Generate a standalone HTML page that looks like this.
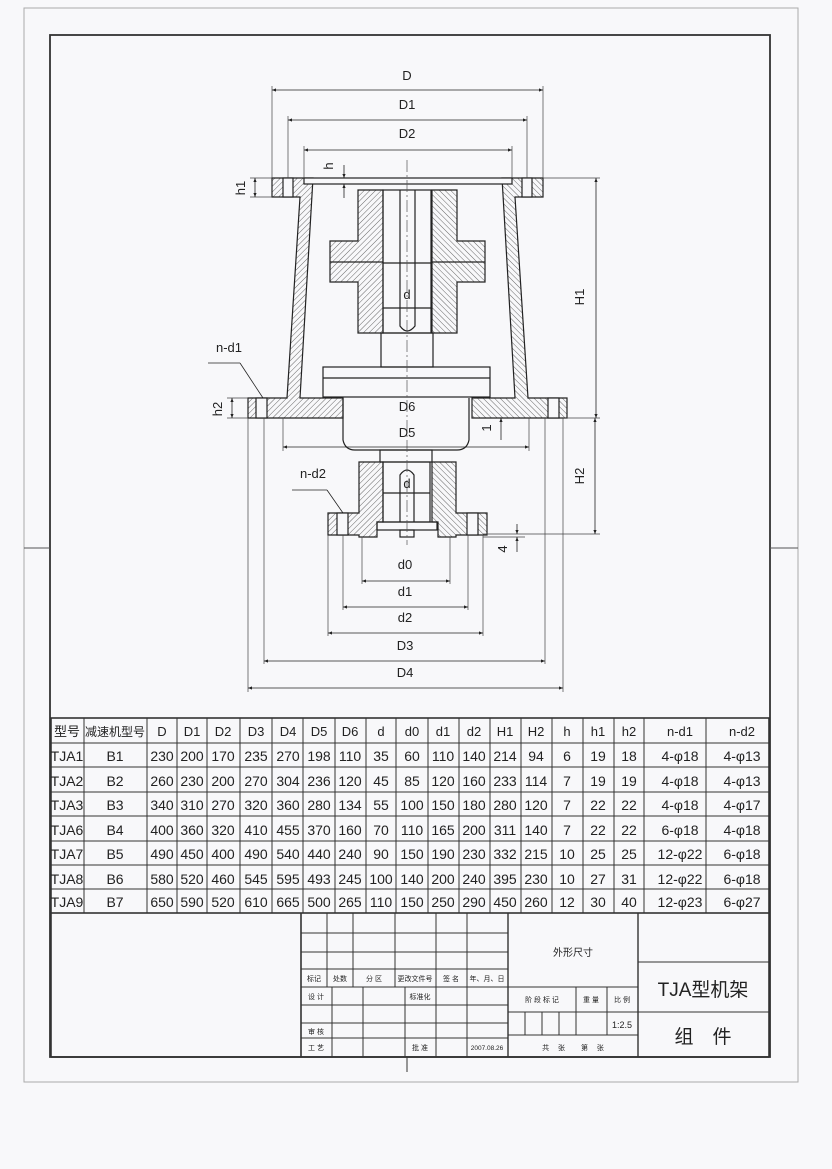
<!DOCTYPE html>
<html><head><meta charset="utf-8"><style>
html,body{margin:0;padding:0;background:#f8f8fa;}
svg{display:block}
text{font-family:"Liberation Sans","Noto Sans CJK SC",sans-serif;fill:#222}
</style></head><body>
<svg width="832" height="1169" viewBox="0 0 832 1169" xmlns="http://www.w3.org/2000/svg">
<defs>
<pattern id="h" patternUnits="userSpaceOnUse" width="4" height="4" patternTransform="rotate(45)">
<line x1="0" y1="0" x2="0" y2="4" stroke="#444" stroke-width="0.8"/></pattern>
<marker id="a" viewBox="0 0 10 10" refX="10" refY="5" markerWidth="7" markerHeight="5" orient="auto-start-reverse">
<path d="M0,1 L10,5 L0,9 z" fill="#222"/></marker>
</defs>
<rect width="832" height="1169" fill="#f8f8fa"/>
<!-- outer frame -->
<rect x="24" y="8" width="774" height="1074" fill="none" stroke="#aaa" stroke-width="1"/>
<!-- inner frame -->
<rect x="50" y="35" width="720" height="1022" fill="none" stroke="#333" stroke-width="1.8"/>
<line x1="24" y1="548" x2="50" y2="548" stroke="#555"/>
<line x1="770" y1="548" x2="798" y2="548" stroke="#555"/>

<g stroke="#222" stroke-width="1.2" fill="none">
<!-- housing left half and mirrored -->
<g id="hl">
<path d="M272,178 H313 L300,398 H343 V418 H248 V398 H287 L300,197 H272 Z" fill="url(#h)"/>
<rect x="283" y="178" width="10" height="19" fill="#f8f8fa"/>
<rect x="256" y="398" width="11" height="20" fill="#f8f8fa"/>
<!-- coupling upper -->
<path d="M358,190 H383 V333 H358 V282 H330 V241 H358 Z" fill="url(#h)"/>
<line x1="330" y1="262" x2="383" y2="262"/>
<!-- lower hub -->
<path d="M359,462 H383 V522 H377 V537 H359 V535 H328 V513 H359 Z" fill="url(#h)"/>
<rect x="337" y="513" width="11" height="22" fill="#f8f8fa"/>
</g>
<use href="#hl" transform="translate(815,0) scale(-1,1)"/>
<rect x="304" y="178" width="208" height="6" fill="#f8f8fa"/>
<!-- upper bore/shaft -->
<rect x="383" y="190" width="48" height="143"/>
<path d="M400,190 V326 Q407,336 415,326 V190"/>
<line x1="383" y1="263" x2="431" y2="263"/>
<line x1="383" y1="308" x2="431" y2="308"/>
<rect x="381" y="333" width="52" height="34"/>
<rect x="323" y="367" width="167" height="30"/>
<line x1="323" y1="378" x2="490" y2="378"/>
<path d="M343,398 V440 Q345,450 355,450 H457 Q467,450 469,440 V398"/>
<rect x="380" y="450" width="52" height="12"/>
<!-- lower bore -->
<rect x="383" y="462" width="47" height="60"/>
<path d="M400,522 V475 Q407,465 414,475 V522"/>
<line x1="383" y1="493" x2="430" y2="493"/>
<rect x="377" y="522" width="60" height="8"/>
<rect x="400" y="530" width="14" height="7"/>
</g>
<!-- centerline -->
<line x1="407" y1="160" x2="407" y2="545" stroke="#555" stroke-width="0.7" stroke-dasharray="12,3,2,3"/>

<!-- extension lines -->
<g stroke="#444" stroke-width="0.7">
<line x1="272" y1="86" x2="272" y2="178"/><line x1="543" y1="86" x2="543" y2="178"/>
<line x1="288" y1="116" x2="288" y2="178"/><line x1="527" y1="116" x2="527" y2="178"/>
<line x1="304" y1="146" x2="304" y2="178"/><line x1="512" y1="146" x2="512" y2="178"/>
<line x1="250" y1="178" x2="272" y2="178"/><line x1="250" y1="197" x2="272" y2="197"/>
<line x1="543" y1="178" x2="600" y2="178"/><line x1="564" y1="418" x2="600" y2="418"/>
<line x1="483" y1="534" x2="600" y2="534"/>
<line x1="227" y1="398" x2="248" y2="398"/><line x1="227" y1="418" x2="248" y2="418"/>
<line x1="283" y1="418" x2="283" y2="451"/><line x1="529" y1="418" x2="529" y2="451"/>
<line x1="264" y1="418" x2="264" y2="664"/><line x1="545" y1="418" x2="545" y2="664"/>
<line x1="248" y1="418" x2="248" y2="692"/><line x1="563" y1="418" x2="563" y2="692"/>
<line x1="328" y1="535" x2="328" y2="636"/><line x1="483" y1="535" x2="483" y2="636"/>
<line x1="343" y1="535" x2="343" y2="610"/><line x1="468" y1="535" x2="468" y2="610"/>
<line x1="362" y1="537" x2="362" y2="584"/><line x1="450" y1="537" x2="450" y2="584"/>
<line x1="483" y1="537" x2="525" y2="537"/>
</g>
<!-- dimension lines -->
<g stroke="#222" stroke-width="0.8" marker-start="url(#a)" marker-end="url(#a)">
<line x1="272" y1="90" x2="543" y2="90"/>
<line x1="288" y1="120" x2="527" y2="120"/>
<line x1="304" y1="150" x2="512" y2="150"/>
<line x1="255" y1="178" x2="255" y2="197"/>
<line x1="596" y1="178" x2="596" y2="418"/>
<line x1="595" y1="418" x2="595" y2="534"/>
<line x1="232" y1="398" x2="232" y2="418"/>
<line x1="283" y1="447" x2="529" y2="447"/>
<line x1="362" y1="581" x2="450" y2="581"/>
<line x1="343" y1="607" x2="468" y2="607"/>
<line x1="328" y1="633" x2="483" y2="633"/>
<line x1="264" y1="661" x2="545" y2="661"/>
<line x1="248" y1="688" x2="563" y2="688"/>
</g>
<g stroke="#222" stroke-width="0.8">
<line x1="344" y1="165" x2="344" y2="178" marker-end="url(#a)"/>
<line x1="344" y1="198" x2="344" y2="184" marker-end="url(#a)"/>
<line x1="501" y1="440" x2="501" y2="418" marker-end="url(#a)"/>
<line x1="517" y1="524" x2="517" y2="534" marker-end="url(#a)"/>
<line x1="517" y1="552" x2="517" y2="537" marker-end="url(#a)"/>
<line x1="208" y1="363" x2="240" y2="363"/><line x1="240" y1="363" x2="263" y2="398"/>
<line x1="292" y1="490" x2="327" y2="490"/><line x1="327" y1="490" x2="343" y2="513"/>
</g>
<!-- labels -->
<g font-size="13" text-anchor="middle">
<text x="407" y="80">D</text>
<text x="407" y="109">D1</text>
<text x="407" y="138">D2</text>
<text x="407" y="299">d</text>
<text x="407" y="411">D6</text>
<text x="407" y="437">D5</text>
<text x="407" y="488">d</text>
<text x="405" y="569">d0</text>
<text x="405" y="596">d1</text>
<text x="405" y="622">d2</text>
<text x="405" y="650">D3</text>
<text x="405" y="677">D4</text>
<text x="229" y="352">n-d1</text>
<text x="313" y="478">n-d2</text>
<text transform="translate(245,188) rotate(-90)">h1</text>
<text transform="translate(333,166) rotate(-90)">h</text>
<text transform="translate(584,297) rotate(-90)">H1</text>
<text transform="translate(584,476) rotate(-90)">H2</text>
<text transform="translate(222,409) rotate(-90)">h2</text>
<text transform="translate(491,428) rotate(-90)">1</text>
<text transform="translate(507,549) rotate(-90)">4</text>
</g>

<!-- table -->
<g stroke="#333" stroke-width="1" fill="none">
<rect x="51" y="718" width="718" height="195" stroke-width="1.6"/>
<line x1="51" y1="743" x2="769" y2="743"/><line x1="51" y1="767" x2="769" y2="767"/>
<line x1="51" y1="792" x2="769" y2="792"/><line x1="51" y1="816" x2="769" y2="816"/>
<line x1="51" y1="841" x2="769" y2="841"/><line x1="51" y1="865" x2="769" y2="865"/>
<line x1="51" y1="889" x2="769" y2="889"/>
<path d="M84,718V913M147,718V913M177,718V913M207,718V913M240,718V913M272,718V913M303,718V913M335,718V913M366,718V913M396,718V913M428,718V913M459,718V913M490,718V913M521,718V913M552,718V913M583,718V913M614,718V913M644,718V913M706,718V913"/>
</g>
<g font-size="13" text-anchor="middle" id="tbl">
<text x="67" y="736">型号</text><text x="115" y="736" font-size="12">减速机型号</text>
<text x="162" y="736">D</text><text x="192" y="736">D1</text><text x="223" y="736">D2</text><text x="256" y="736">D3</text><text x="288" y="736">D4</text><text x="319" y="736">D5</text><text x="350" y="736">D6</text><text x="381" y="736">d</text><text x="412" y="736">d0</text><text x="443" y="736">d1</text><text x="474" y="736">d2</text><text x="505" y="736">H1</text><text x="536" y="736">H2</text><text x="567" y="736">h</text><text x="598" y="736">h1</text><text x="629" y="736">h2</text><text x="680" y="736">n-d1</text><text x="742" y="736">n-d2</text>
</g>
<g font-size="14" text-anchor="middle">
<g transform="translate(0,761)"><text x="67">TJA1</text><text x="115">B1</text><text x="162">230</text><text x="192">200</text><text x="223">170</text><text x="256">235</text><text x="288">270</text><text x="319">198</text><text x="350">110</text><text x="381">35</text><text x="412">60</text><text x="443">110</text><text x="474">140</text><text x="505">214</text><text x="536">94</text><text x="567">6</text><text x="598">19</text><text x="629">18</text><text x="680">4-φ18</text><text x="742">4-φ13</text></g>
<g transform="translate(0,786)"><text x="67">TJA2</text><text x="115">B2</text><text x="162">260</text><text x="192">230</text><text x="223">200</text><text x="256">270</text><text x="288">304</text><text x="319">236</text><text x="350">120</text><text x="381">45</text><text x="412">85</text><text x="443">120</text><text x="474">160</text><text x="505">233</text><text x="536">114</text><text x="567">7</text><text x="598">19</text><text x="629">19</text><text x="680">4-φ18</text><text x="742">4-φ13</text></g>
<g transform="translate(0,810)"><text x="67">TJA3</text><text x="115">B3</text><text x="162">340</text><text x="192">310</text><text x="223">270</text><text x="256">320</text><text x="288">360</text><text x="319">280</text><text x="350">134</text><text x="381">55</text><text x="412">100</text><text x="443">150</text><text x="474">180</text><text x="505">280</text><text x="536">120</text><text x="567">7</text><text x="598">22</text><text x="629">22</text><text x="680">4-φ18</text><text x="742">4-φ17</text></g>
<g transform="translate(0,835)"><text x="67">TJA6</text><text x="115">B4</text><text x="162">400</text><text x="192">360</text><text x="223">320</text><text x="256">410</text><text x="288">455</text><text x="319">370</text><text x="350">160</text><text x="381">70</text><text x="412">110</text><text x="443">165</text><text x="474">200</text><text x="505">311</text><text x="536">140</text><text x="567">7</text><text x="598">22</text><text x="629">22</text><text x="680">6-φ18</text><text x="742">4-φ18</text></g>
<g transform="translate(0,859)"><text x="67">TJA7</text><text x="115">B5</text><text x="162">490</text><text x="192">450</text><text x="223">400</text><text x="256">490</text><text x="288">540</text><text x="319">440</text><text x="350">240</text><text x="381">90</text><text x="412">150</text><text x="443">190</text><text x="474">230</text><text x="505">332</text><text x="536">215</text><text x="567">10</text><text x="598">25</text><text x="629">25</text><text x="680">12-φ22</text><text x="742">6-φ18</text></g>
<g transform="translate(0,884)"><text x="67">TJA8</text><text x="115">B6</text><text x="162">580</text><text x="192">520</text><text x="223">460</text><text x="256">545</text><text x="288">595</text><text x="319">493</text><text x="350">245</text><text x="381">100</text><text x="412">140</text><text x="443">200</text><text x="474">240</text><text x="505">395</text><text x="536">230</text><text x="567">10</text><text x="598">27</text><text x="629">31</text><text x="680">12-φ22</text><text x="742">6-φ18</text></g>
<g transform="translate(0,907)"><text x="67">TJA9</text><text x="115">B7</text><text x="162">650</text><text x="192">590</text><text x="223">520</text><text x="256">610</text><text x="288">665</text><text x="319">500</text><text x="350">265</text><text x="381">110</text><text x="412">150</text><text x="443">250</text><text x="474">290</text><text x="505">450</text><text x="536">260</text><text x="567">12</text><text x="598">30</text><text x="629">40</text><text x="680">12-φ23</text><text x="742">6-φ27</text></g>
</g>

<!-- title block -->
<g stroke="#333" stroke-width="1" fill="none">
<line x1="51" y1="913" x2="51" y2="1057" stroke-width="1.6"/>
<line x1="51" y1="1057" x2="769" y2="1057" stroke-width="1.6"/>
<line x1="769" y1="913" x2="769" y2="1057" stroke-width="1.6"/>
<line x1="301" y1="913" x2="301" y2="1057" stroke-width="1.6"/>
<line x1="508" y1="913" x2="508" y2="1057" stroke-width="1.4"/>
<line x1="638" y1="913" x2="638" y2="1057" stroke-width="1.4"/>
<path d="M301,933H508M301,952H508M301,969H508M301,987H508M301,1005H508M301,1023H508M301,1038H508"/>
<path d="M327,913V987M353,913V987M395,913V987M436,913V1057M467,913V1057"/>
<path d="M332,987V1057M363,987V1057M405,987V1057"/>
<path d="M508,987H638M508,1012H638M508,1035H638M576,987V1035M607,987V1035M525,1012V1035M542,1012V1035M559,1012V1035"/>
<path d="M638,962H769M638,1012H769"/>
<line x1="407" y1="1057" x2="407" y2="1072"/>
</g>
<g font-size="7" text-anchor="middle">
<text x="314" y="981">标记</text><text x="340" y="981">处数</text><text x="374" y="981">分 区</text><text x="415" y="981">更改文件号</text><text x="451" y="981">签 名</text><text x="487" y="981">年、月、日</text>
<text x="316" y="999">设 计</text><text x="420" y="999">标准化</text>
<text x="316" y="1034">审 核</text><text x="316" y="1050">工 艺</text><text x="420" y="1050">批 准</text><text x="487" y="1050" font-size="6.5">2007.08.26</text>
<text x="542" y="1002">阶 段 标 记</text><text x="591" y="1002">重 量</text><text x="622" y="1002">比 例</text>
<text x="573" y="1050">共　 张　　 第　 张</text>
</g>
<text x="622" y="1028" font-size="9" text-anchor="middle">1:2.5</text>
<text x="573" y="956" font-size="10" text-anchor="middle">外形尺寸</text>
<text x="703" y="996" font-size="19" text-anchor="middle">TJA型机架</text>
<text x="703" y="1043" font-size="19" text-anchor="middle">组　件</text>
</svg>
</body></html>
